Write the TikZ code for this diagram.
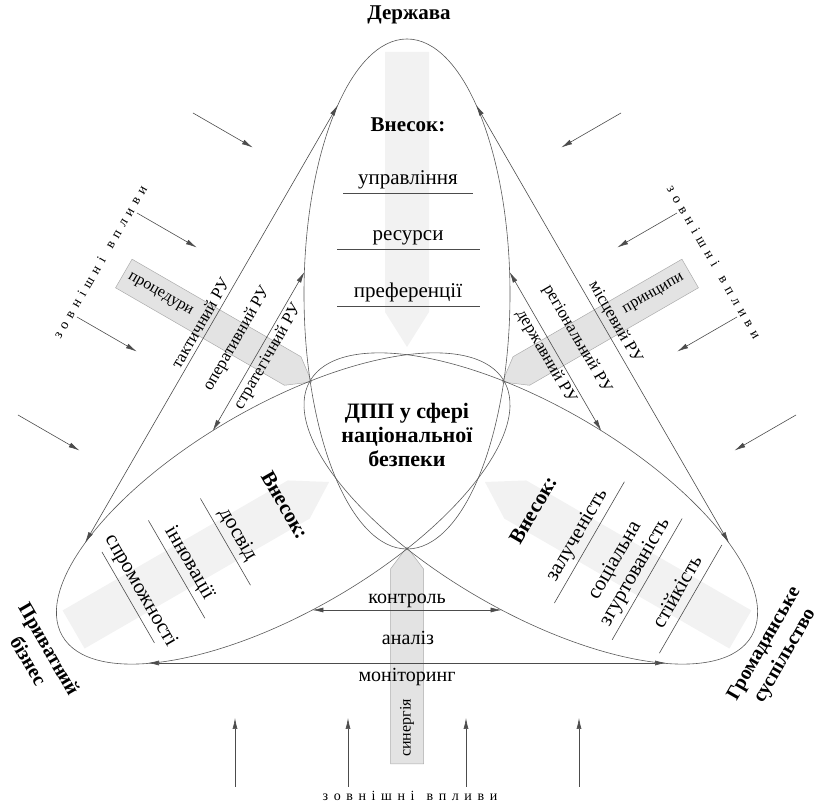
\documentclass[tikz,border=0pt]{standalone}
\usepackage{fontspec}
\setmainfont{Liberation Serif}
\newfontfamily\widefont[LetterSpace=40]{Liberation Serif}
\usepackage{tikz}
\usetikzlibrary{arrows.meta,positioning,calc}

\tikzset{
  petal/.style={draw=black!65, line width=0.6pt},
  flow/.style={fill=gray!10},
  band/.style={fill=gray!22, draw=gray!65, line width=0.5pt},
  link/.style={draw=black!70, line width=0.6pt,
    {Latex[length=11pt,width=5pt]}-{Latex[length=11pt,width=5pt]}},
  push/.style={draw=black!70, line width=0.6pt, -{Latex[length=11pt,width=5pt]}},
  uline/.style={draw=black!70, line width=0.6pt},
  title/.style={font=\fontsize{21}{24}\selectfont\bfseries, align=center},
  head/.style={font=\fontsize{21}{23}\selectfont\bfseries},
  item/.style={font=\fontsize{21}{23}\selectfont, align=center,
    execute at begin node=\strut},
  rulab/.style={font=\fontsize{17}{19}\selectfont, sloped},
  tag/.style={font=\fontsize{16}{18}\selectfont},
  outer/.style={font=\fontsize{14}{16}\widefont},
}

\begin{document}
\begin{tikzpicture}[x=1pt, y=1pt, font=\fontsize{20}{22}\selectfont,
    every node/.style={inner sep=2pt}]
  \useasboundingbox (0,0) rectangle (820,805);
  % centres of the three petals
  \coordinate (O) at (407,368);
  \coordinate (T) at (407,511);
  \coordinate (L) at (283.2,296.5);
  \coordinate (R) at (530.8,296.5);

  % light contribution arrows
  \begin{scope}[shift={(O)}, rotate=90]
    \fill[flow] (90,0) -- (125,22) -- (385,22) -- (385,-22) -- (125,-22) -- cycle;
  \end{scope}
  \begin{scope}[shift={(O)}, rotate=210]
    \fill[flow] (90,0) -- (125,22) -- (385,22) -- (385,-22) -- (125,-22) -- cycle;
  \end{scope}
  \begin{scope}[shift={(O)}, rotate=330]
    \fill[flow] (90,0) -- (125,22) -- (385,22) -- (385,-22) -- (125,-22) -- cycle;
  \end{scope}

  % grey bands
  \begin{scope}[shift={(O)}, rotate=150]
    \draw[band] (110,0) -- (132,16.5) -- (327,16.5) -- (327,-16.5) -- (132,-16.5) -- cycle;
    \node[tag, rotate=-30] (proc) at (285,0) {процедури};
  \end{scope}
  \begin{scope}[shift={(O)}, rotate=30]
    \draw[band] (110,0) -- (132,16.5) -- (327,16.5) -- (327,-16.5) -- (132,-16.5) -- cycle;
    \node[tag, rotate=30] (princ) at (285,0) {принципи};
  \end{scope}
  \begin{scope}[shift={(O)}, rotate=270]
    \draw[band] (110,0) -- (132,16.5) -- (327,16.5) -- (327,-16.5) -- (132,-16.5) -- cycle;
    \node[tag, rotate=90] (syn) at (291,0) {синергія};
  \end{scope}

  % petals
  \draw[petal] (T) ellipse [x radius=103, y radius=255];
  \draw[petal, rotate around={30:(L)}] (L) ellipse [x radius=255, y radius=103];
  \draw[petal, rotate around={-30:(R)}] (R) ellipse [x radius=255, y radius=103];

  \node[title] (state) at (409,790) {Держава};
  \node[title, font=\fontsize{22}{24}\selectfont\bfseries] (core) at (407,370)
    {ДПП у сфері\\національної\\безпеки};
  \node[title, font=\fontsize{20}{24}\selectfont\bfseries, rotate=-60] (biz) at (39,150)
    {Приватний\\бізнес};
  \node[title, font=\fontsize{20}{24}\selectfont\bfseries, rotate=60] (soc) at (775,155)
    {Громадянське\\суспільство};

  % top petal
  \node[head] (thead) at (408,680) {Внесок:};
  \node[item] (t1) at (408,625) {управління};
  \node[item] (t2) at (408,569) {ресурси};
  \node[item] (t3) at (408,512) {преференції};
  \draw[uline] (t1.south) ++(-65,0) -- ++(130,0);
  \draw[uline] (t2.south) ++(-71,0) -- ++(143,0);
  \draw[uline] (t3.south) ++(-71,0) -- ++(143,0);

  % left petal
  \begin{scope}[shift={(L)}, rotate=30]
    \node[head, rotate=-60] (lhead) at (3,2) {Внесок:};
    \node[item, rotate=-60] (l1) at (-53,0) {досвід};
    \node[item, rotate=-60] (l2) at (-109,0) {інновації};
    \node[item, rotate=-60] (l3) at (-165,0) {спроможності};
    \draw[uline] (l1.south) ++(0,-50) -- ++(0,100);
    \draw[uline] (l2.south) ++(0,-56) -- ++(0,113);
    \draw[uline] (l3.south) ++(0,-52) -- ++(0,105);
  \end{scope}

  % right petal
  \begin{scope}[shift={(R)}, rotate=-30]
    \node[head, rotate=60] (rhead) at (3,0) {Внесок:};
    \node[item, rotate=60] (r1) at (54,0) {залученість};
    \node[item, rotate=60] (r2) at (112,-3) {соціальна\\згуртованість};
    \node[item, rotate=60] (r3) at (170,1) {стійкість};
    \draw[uline] (r1.south) ++(0,-70) -- ++(0,140);
    \draw[uline] (r2.south) ++(0,-70) -- ++(0,140);
    \draw[uline] (r3.south) ++(0,-62) -- ++(0,125);
  \end{scope}

  % levels of regulation
  \coordinate (tacA) at (85.1,262.2);
  \coordinate (tacB) at (337.9,700);
  \coordinate (opA) at (212.8,374.3);
  \coordinate (opB) at (304.4,533);
  \coordinate (locA) at (728.9,262.2);
  \coordinate (locB) at (476.1,700);
  \coordinate (regA) at (601.2,374.3);
  \coordinate (regB) at (509.6,533);
  \draw[link] (tacA) -- node[rulab, pos=0.49, above=2pt] (tac) {тактичний РУ} (tacB);
  \draw[link] (opA) -- node[rulab, above=15pt] (oper) {оперативний РУ}
    node[rulab, below=1pt] (strat) {стратегічний РУ} (opB);
  \draw[link] (locB) -- node[rulab, pos=0.51, above=2pt] (loc) {місцевий РУ} (locA);
  \draw[link] (regB) -- node[rulab, above=15pt] (reg) {регіональний РУ}
    node[rulab, below=1pt] (gov) {державний РУ} (regA);

  % bottom
  \coordinate (ctrlA) at (312.4,195);
  \coordinate (ctrlB) at (501.6,195);
  \coordinate (monA) at (148,142);
  \coordinate (monB) at (666,142);
  \draw[link] (ctrlA) -- node[above] (ctrl) {контроль} (ctrlB);
  \node (anal) at (408,167) {аналіз};
  \draw[link] (monA) -- node[below=3pt] (mon) {моніторинг} (monB);

  % external influences
  \node[outer, rotate=60] (extL) at (100,543) {зовнішні\hspace{3pt} впливи};
  \node[outer, rotate=-60] (extR) at (714,543) {зовнішні\hspace{3pt} впливи};
  \node[outer] (extB) at (410,9) {зовнішні\hspace{3pt} впливи};
  \coordinate (w1) at (193,692);
  \coordinate (w2) at (137,592);
  \coordinate (w3) at (77,488);
  \coordinate (w4) at (18,390);
  \coordinate (w5) at (621,692);
  \coordinate (w6) at (677,592);
  \coordinate (w7) at (737,488);
  \coordinate (w8) at (796,390);
  \coordinate (w9) at (235,18);
  \coordinate (w10) at (348,18);
  \coordinate (w11) at (466,18);
  \coordinate (w12) at (579,18);
  \draw[push] (w1) -- ++(-30:69);
  \draw[push] (w2) -- ++(-30:69);
  \draw[push] (w3) -- ++(-30:69);
  \draw[push] (w4) -- ++(-30:71);
  \draw[push] (w5) -- ++(210:69);
  \draw[push] (w6) -- ++(210:69);
  \draw[push] (w7) -- ++(210:69);
  \draw[push] (w8) -- ++(210:71);
  \draw[push] (w9) -- ++(90:69);
  \draw[push] (w10) -- ++(90:69);
  \draw[push] (w11) -- ++(90:69);
  \draw[push] (w12) -- ++(90:69);
\end{tikzpicture}
\end{document}
